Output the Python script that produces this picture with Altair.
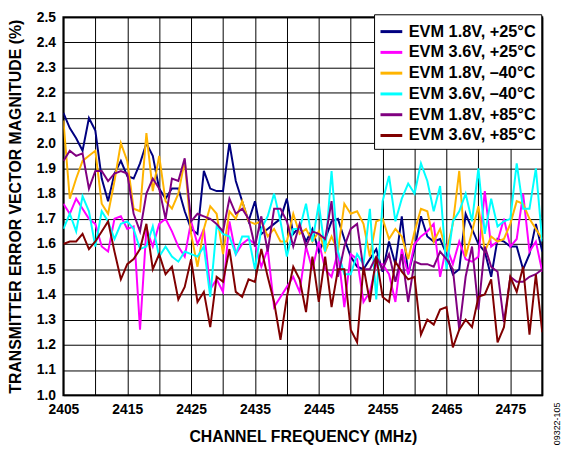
import altair as alt
import pandas as pd

freqs = list(range(2405, 2481))

series_names = [
    "EVM 1.8V, +25°C",
    "EVM 3.6V, +25°C",
    "EVM 1.8V, \u201340°C",
    "EVM 3.6V, \u201340°C",
    "EVM 1.8V, +85°C",
    "EVM 3.6V, +85°C",
]
series_colors = ["#000080", "#FF00FF", "#FFB400", "#00FFFF", "#800080", "#800000"]

evm_18_p25 = [
    2.12, 2.06, 2.02, 1.97, 2.10, 2.05, 1.86, 1.77, 1.88, 1.93,
    1.87, 1.86, 1.92, 2.00, 1.95, 1.82, 1.78, 1.82, 1.82, 1.73,
    1.66, 1.64, 1.89, 1.82, 1.81, 1.81, 2.00, 1.85, 1.77, 1.69,
    1.77, 1.64, 1.66, 1.68, 1.70, 1.78, 1.64, 1.67, 1.61, 1.66,
    1.57, 1.62, 1.69, 1.70, 1.62, 1.55, 1.51, 1.50, 1.54, 1.58,
    1.49, 1.61, 1.52, 1.71, 1.48, 1.58, 1.71, 1.63, 1.61, 1.62,
    1.56, 1.48, 1.50, 1.72, 1.66, 1.60, 1.57, 1.47, 1.62, 1.61,
    1.59, 1.59, 1.50, 1.56, 1.68, 1.57,
]
evm_36_p25 = [
    1.76, 1.72, 1.78, 1.74, 1.70, 1.68, 1.59, 1.57, 1.70, 1.71,
    1.66, 1.67, 1.26, 1.66, 1.59, 1.68, 1.70, 1.65, 1.59, 1.55,
    1.69, 1.60, 1.66, 1.42, 1.46, 1.41, 1.69, 1.56, 1.60, 1.62,
    1.60, 1.51, 1.58, 1.35, 1.39, 1.43, 1.47, 1.41, 1.59, 1.50,
    1.61, 1.50, 1.47, 1.57, 1.35, 1.56, 1.54, 1.37, 1.41, 1.52,
    1.52, 1.48, 1.37, 1.58, 1.48, 1.60, 1.63, 1.65, 1.68, 1.47,
    1.59, 1.52, 1.61, 1.54, 1.53, 1.55, 1.81, 1.59, 1.61, 1.70,
    1.59, 1.62, 1.80, 1.57, 1.61, 1.49,
]
evm_18_m40 = [
    2.09, 1.78, 1.86, 1.93, 1.95, 1.97, 1.76, 1.72, 1.85, 2.00,
    1.93, 1.74, 1.73, 2.04, 1.81, 1.95, 1.77, 1.74, 1.80, 1.93,
    1.64, 1.51, 1.66, 1.75, 1.72, 1.56, 1.73, 1.70, 1.77, 1.69,
    1.68, 1.69, 1.63, 1.66, 1.61, 1.61, 1.72, 1.64, 1.66, 1.61,
    1.65, 1.57, 1.63, 1.57, 1.76, 1.72, 1.73, 1.68, 1.55, 1.69,
    1.70, 1.62, 1.66, 1.63, 1.54, 1.65, 1.74, 1.73, 1.61, 1.66,
    1.57, 1.68, 1.89, 1.55, 1.65, 1.75, 1.57, 1.63, 1.61, 1.62,
    1.68, 1.77, 1.76, 1.70, 1.66, 1.62,
]
evm_36_m40 = [
    1.66, 1.72, 1.65, 1.79, 1.73, 1.59, 1.73, 1.69, 1.62, 1.68,
    1.69, 1.66, 1.58, 1.59, 1.67, 1.55, 1.59, 1.55, 1.53, 1.57,
    1.56, 1.55, 1.59, 1.39, 1.67, 1.64, 1.63, 1.56, 1.63, 1.63,
    1.50, 1.66, 1.71, 1.80, 1.69, 1.55, 1.66, 1.66, 1.76, 1.61,
    1.76, 1.57, 1.89, 1.57, 1.48, 1.48, 1.56, 1.52, 1.74, 1.38,
    1.77, 1.87, 1.69, 1.78, 1.84, 1.80, 1.92, 1.85, 1.73, 1.83,
    1.50, 1.69, 1.73, 1.80, 1.69, 1.90, 1.64, 1.78, 1.67, 1.69,
    1.70, 1.92, 1.74, 1.74, 1.90, 1.61,
]
evm_18_p85 = [
    1.93, 1.97, 1.95, 1.96, 1.82, 1.89, 1.89, 1.85, 1.88, 1.89,
    1.88, 1.72, 1.65, 1.80, 1.86, 1.82, 1.70, 1.86, 1.85, 1.94,
    1.69, 1.72, 1.71, 1.70, 1.68, 1.65, 1.78, 1.72, 1.74, 1.70,
    1.59, 1.71, 1.57, 1.74, 1.74, 1.69, 1.59, 1.68, 1.59, 1.65,
    1.64, 1.62, 1.77, 1.47, 1.59, 1.66, 1.68, 1.50, 1.50, 1.55,
    1.50, 1.56, 1.45, 1.56, 1.37, 1.53, 1.52, 1.52, 1.51, 1.57,
    1.54, 1.50, 1.26, 1.47, 1.59, 1.34, 1.59, 1.51, 1.49, 1.29,
    1.47, 1.45, 1.45, 1.47, 1.48, 1.50,
]
evm_36_p85 = [
    1.60, 1.61, 1.61, 1.64, 1.58, 1.61, 1.65, 1.69, 1.57, 1.46,
    1.52, 1.54, 1.58, 1.68, 1.50, 1.56, 1.48, 1.51, 1.38, 1.43,
    1.54, 1.37, 1.41, 1.27, 1.47, 1.45, 1.58, 1.41, 1.39, 1.46,
    1.45, 1.58, 1.47, 1.37, 1.22, 1.39, 1.51, 1.46, 1.33, 1.55,
    1.37, 1.55, 1.35, 1.50, 1.50, 1.26, 1.21, 1.51, 1.37, 1.55,
    1.39, 1.37, 1.53, 1.49, 1.46, 1.47, 1.24, 1.30, 1.28, 1.34,
    1.35, 1.19, 1.26, 1.30, 1.27, 1.39, 1.40, 1.46, 1.21, 1.27,
    1.47, 1.41, 1.51, 1.24, 1.48, 1.25,
]

all_series = [evm_18_p25, evm_36_p25, evm_18_m40, evm_36_m40, evm_18_p85, evm_36_p85]

rows = []
for idx, (name, vals) in enumerate(zip(series_names, all_series)):
    for f, v in zip(freqs, vals):
        rows.append({"freq": f, "evm": v, "series": name, "order": idx})
df = pd.DataFrame(rows)

FONT = "Liberation Sans"

x_ticks = list(range(2405, 2481, 5))
y_ticks = [round(1.0 + 0.1 * i, 1) for i in range(16)]

lines = alt.Chart(df).mark_line(strokeWidth=2, clip=True).encode(
    x=alt.X(
        "freq:Q",
        scale=alt.Scale(domain=[2405, 2480], nice=False, zero=False),
        axis=alt.Axis(
            title="CHANNEL FREQUENCY (MHz)",
            values=x_ticks,
            format="d",
            labelExpr="(datum.value - 2405) % 10 == 0 ? datum.label : ''",
            labelOverlap=False,
            labelFlush=False,
            ticks=False,
            labelPadding=8,
            titlePadding=12,
        ),
    ),
    y=alt.Y(
        "evm:Q",
        scale=alt.Scale(domain=[1.0, 2.5], nice=False, zero=False),
        axis=alt.Axis(
            title="TRANSMITTER ERROR VECTOR MAGNITUDE (%)",
            values=y_ticks,
            format=".1f",
            labelOverlap=False,
            labelFlush=False,
            ticks=False,
            labelPadding=8,
            titlePadding=13,
        ),
    ),
    color=alt.Color(
        "series:N",
        scale=alt.Scale(domain=series_names, range=series_colors),
        legend=alt.Legend(
            orient="none",
            legendX=314,
            legendY=-3,
            title=None,
            fillColor="white",
            strokeColor="black",
            padding=5,
            symbolType="stroke",
            symbolSize=484,
            symbolStrokeWidth=3,
            labelFont=FONT,
            labelFontSize=16.5,
            labelFontWeight="bold",
            labelColor="black",
            labelOffset=5,
            rowPadding=-3,
        ),
    ),
    order=alt.Order("order:Q"),
)

tag = alt.Chart(pd.DataFrame({"t": ["09322-105"]})).mark_text(
    angle=270, font=FONT, fontSize=9, color="black", align="center", baseline="middle"
).encode(x=alt.value(499), y=alt.value(411), text="t:N")

chart = (
    alt.layer(lines, tag)
    .properties(
        width=484,
        height=382,
        autosize=alt.AutoSizeParams(type="none"),
        padding={"left": 56, "top": 7, "right": 24, "bottom": 50},
    )
    .configure_view(stroke="black", strokeWidth=2)
    .configure_axis(
        grid=True,
        gridColor="black",
        gridWidth=1,
        gridOpacity=1,
        domain=False,
        labelFont=FONT,
        labelFontSize=14,
        labelFontWeight="bold",
        labelColor="black",
        titleFont=FONT,
        titleFontSize=16,
        titleFontWeight="bold",
        titleColor="black",
    )
)

chart.save("out.html", embed_options={"renderer": "svg", "actions": False})
